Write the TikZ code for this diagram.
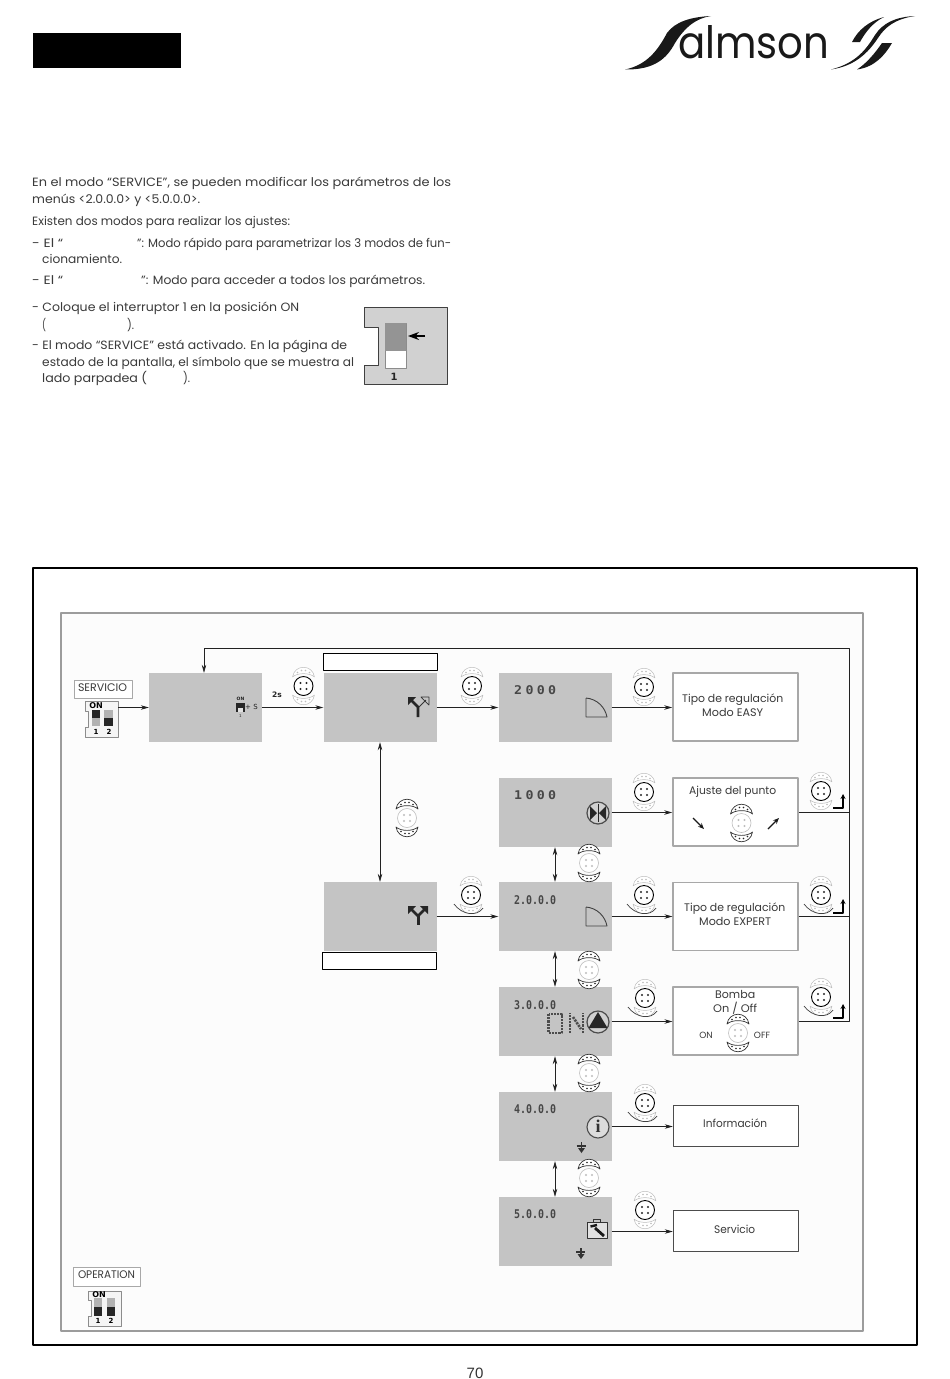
\documentclass[tikz,border=0pt]{standalone}
\usepackage{fontspec}
\usetikzlibrary{arrows.meta}
\setmainfont{Poppins}
\newfontfamily\lcdfont{DejaVu Sans Mono}
\newfontfamily\dvb{DejaVu Sans}
\newfontfamily\pagefont{Liberation Sans}
\newfontfamily\serifb{Liberation Serif}
\definecolor{lcdgray}{HTML}{C4C4C4}
\definecolor{txt}{HTML}{3A3A3A}
\definecolor{frameg}{HTML}{9C9C9C}
\definecolor{boxg}{HTML}{A8A8A8}
\definecolor{faint}{HTML}{BDBDBD}
\definecolor{dark}{HTML}{222222}
\tikzset{
 lcd/.style={fill=lcdgray,draw=none,inner sep=0,minimum width=113pt,minimum height=69pt},
 resA/.style={fill=white,draw=boxg,line width=1.6pt,inner sep=0,minimum width=125pt,minimum height=68pt},
 resB/.style={fill=white,draw=boxg,line width=1.1pt,inner sep=0,minimum width=125pt,minimum height=68pt},
 resC/.style={fill=white,draw=black!70,line width=.5pt,inner sep=0,minimum width=125pt,minimum height=41pt},
 blank/.style={fill=white,draw=black,line width=.8pt,inner sep=0,minimum width=114pt,minimum height=17pt},
 lab/.style={fill=white,draw=boxg,line width=1pt,inner sep=0},
 conn/.style={draw=dark,line width=.7pt},
 arr/.style={conn,-{Stealth[length=8pt,width=4.5pt]}},
 darr/.style={conn,{Stealth[length=8pt,width=4.5pt]}-{Stealth[length=8pt,width=4.5pt]}},
 lcdnum/.style={inner sep=0,anchor=base west,text=black!72,font=\lcdfont\bfseries\fontsize{12}{12}\selectfont},
 tinyt/.style={inner sep=0,text=dark},
}
\newcommand\tl[5]{\node[inner sep=0,anchor=base west,text=txt] (#1) at (#2,#3+4) {\fontsize{12}{13}\selectfont\resizebox{#4pt}{\height}{#5}};}
\newcommand\crescentpair[3]{%
 \foreach \sg in {1,-1}{
  \begin{scope}[yscale=\sg]
  \path[draw=#1,fill=white,line width=#3] (-11,-9) .. controls (-9,-22) and (9,-22) .. (11,-9) .. controls (6,-13.5) and (-6,-13.5) .. (-11,-9) -- cycle;
  \foreach \a/\b in {-6/-13.5,-2/-15.5,2/-15.5,6/-13.5}{\fill[#2] (\a,\b) circle (.8);}
  \end{scope}}}
\tikzset{
 btnsel/.pic={
  \crescentpair{faint}{faint}{.5pt}
  \path[draw=black,fill=white,line width=.9pt] (0,0) circle (9.5);
  \foreach \a in {-3,3}{\foreach \b in {-3,3}{\fill[black!85] (\a,\b) circle (1.1);}}
 },
 btnturn/.pic={
  \crescentpair{faint}{faint}{.5pt}
  \path[draw=black,fill=white,line width=.9pt] (0,0) circle (9.5);
  \foreach \a in {-3,3}{\foreach \b in {-3,3}{\fill[black!85] (\a,\b) circle (1.1);}}
  \draw[black!75,line width=.7pt] (-17,9) .. controls (-9,20) and (6,22) .. (12,13);
 },
 btnrot/.pic={
  \crescentpair{black!80}{black!85}{.7pt}
  \path[draw=faint,fill=white,line width=.6pt] (0,0) circle (9.5);
  \foreach \a in {-3,3}{\foreach \b in {-3,3}{\fill[faint] (\a,\b) circle (1.1);}}
 },
 backarrow/.pic={
  \draw[black,line width=1.2pt,-{Stealth[length=5pt,width=5pt]}] (-10,0) -- (0,0) -- (0,-14);
 },
 downmark/.pic={
  \draw[black!80,line width=1.2pt] (-5,0) -- (4,0);
  \draw[black!80,line width=1.4pt] (0,-4) -- (0,3);
  \fill[black!80] (-3.5,2) -- (3.5,2) -- (0,7) -- cycle;
 },
 quarter/.pic={
  \draw[black!75,line width=.9pt] (0,0) -- (0,19) -- (21,19) .. controls (19,9) and (11,1) .. (0,0);
 },
}
\begin{document}
\begin{tikzpicture}[x=1pt,y=-1pt,line join=round]
\useasboundingbox (0,0) rectangle (950,1379);
\fill[white] (0,0) rectangle (950,1379);

% header block
\fill[black] (33,33) rectangle (181,68);

% logo
\fill[black!90] (625,69.5) .. controls (647,65) and (658,50) .. (667,33) .. controls (675,22) and (690,17) .. (711,16)
  .. controls (692,19) and (682,32) .. (675,43) .. controls (667,58) and (655,70) .. (625,69.5) -- cycle;
\node[inner sep=0,anchor=base west,text=black!90] (logotext) at (678,58.5) {\resizebox{151pt}{33pt}{almson}};
\fill[black!90] (831,69.5) .. controls (855,66) and (868,53) .. (878,38) .. controls (885,27) and (895,19) .. (915,16)
  .. controls (895,17) and (883,23) .. (875,35) .. controls (867,48) and (857,63) .. (831,69.5) -- cycle;
\fill[black!90] (852,42) .. controls (858,30) and (869,21) .. (884,17) .. controls (872,23) and (865,33) .. (860,42) -- cycle;
\fill[black!90] (882,43) .. controls (875,53) and (867,63) .. (857,69.5) .. controls (875,67) and (885,55) .. (892,43) -- cycle;

% body text
\tl{t1}{32}{182}{419}{En el modo “SERVICE”, se pueden modificar los parámetros de los}
\tl{t2}{32}{199}{168}{menús <2.0.0.0> y <5.0.0.0>.}
\tl{t3}{32}{221}{258}{Existen dos modos para realizar los ajustes:}
\tl{t4a}{32}{243}{31}{- El “}
\tl{t4b}{137}{243}{314}{”: Modo rápido para parametrizar los 3 modos de fun-}
\tl{t5}{42}{259}{80}{cionamiento.}
\tl{t6a}{32}{280}{31}{- El “}
\tl{t6b}{141}{280}{284}{”: Modo para acceder a todos los parámetros.}
\tl{t7}{32}{307}{267}{- Coloque el interruptor 1 en la posición ON}
\tl{t8a}{42}{325}{4}{(}
\tl{t8b}{127}{325}{7}{).}
\tl{t9}{32}{345}{315}{- El modo “SERVICE” está activado. En la página de}
\tl{t10}{42}{362}{312}{estado de la pantalla, el símbolo que se muestra al}
\tl{t11a}{42}{378}{105}{lado parpadea (}
\tl{t11b}{183}{378}{7}{).}

% switch figure
\path[fill=black!18,draw=black!75,line width=.6pt] (364,307) -- (447,307) -- (447,384) -- (364,384) -- (364,365) -- (378,365) -- (378,327) -- (364,327) -- cycle;
\path[fill=white,draw=black!45,line width=.8pt] (385,323) rectangle (406,368);
\fill[black!42] (385,323) rectangle (406,351);
\draw[black,line width=1.2pt,-{Stealth[length=11pt,width=8pt]}] (425,336) -- (408,336);
\node[inner sep=0,font=\dvb\bfseries\fontsize{10}{10}\selectfont,text=black!85] (swnum) at (394,377) {1};

% frames
\draw[black,line width=1.4pt] (33,568) rectangle (917,1345);
\path[draw=frameg,line width=2pt,fill=black!1] (61,613) rectangle (863,1331);

% DIP service
\node[lab,minimum width=58pt,minimum height=18pt] (lserv) at (103,689) {};
\node[inner sep=0,text=txt] (lservt) at (102.5,688) {\fontsize{11}{11}\selectfont\resizebox{49pt}{\height}{SERVICIO}};
\path[fill=black!4,draw=black!45,line width=.6pt] (85,701) -- (118,701) -- (118,737) -- (85,737) -- (85,727) -- (88,727) -- (88,711) -- (85,711) -- cycle;
\node[inner sep=0,font=\dvb\bfseries\fontsize{8}{8}\selectfont] (don) at (96,705.5) {ON};
\fill[black!30] (92,710) rectangle (100,726); \fill[black!85] (92,710) rectangle (100,718);
\fill[black!30] (104,710) rectangle (113,726); \fill[black!85] (104,718) rectangle (113,726);
\node[inner sep=0,font=\dvb\bfseries\fontsize{7}{7}\selectfont] (dn1) at (96,732) {1};
\node[inner sep=0,font=\dvb\bfseries\fontsize{7}{7}\selectfont] (dn2) at (109,732) {2};
\coordinate (dipout) at (118,707.5);

% DIP operation
\node[lab,minimum width=67pt,minimum height=19pt] (lop) at (106.5,1277) {};
\node[inner sep=0,text=txt] (lopt) at (106.5,1275) {\fontsize{11}{11}\selectfont\resizebox{57pt}{\height}{OPERATION}};
\path[fill=black!4,draw=black!45,line width=.6pt] (88,1291) -- (121,1291) -- (121,1326) -- (88,1326) -- (88,1316) -- (91,1316) -- (91,1300) -- (88,1300) -- cycle;
\node[inner sep=0,font=\dvb\bfseries\fontsize{8}{8}\selectfont] (don2) at (99,1295) {ON};
\fill[black!30] (94,1298) rectangle (102,1316); \fill[black!85] (94,1307) rectangle (102,1316);
\fill[black!30] (107,1298) rectangle (115,1316); \fill[black!85] (107,1307) rectangle (115,1316);
\node[inner sep=0,font=\dvb\bfseries\fontsize{7}{7}\selectfont] (dn3) at (98,1320.5) {1};
\node[inner sep=0,font=\dvb\bfseries\fontsize{7}{7}\selectfont] (dn4) at (111,1320.5) {2};

% LCD nodes
\node[lcd] (A) at (205.5,707.5) {};
\node[lcd] (B) at (380,707.5) {};
\node[lcd] (C) at (555,707.5) {};
\node[lcd] (D) at (555,812.5) {};
\node[lcd] (E) at (380,916.5) {};
\node[lcd] (F) at (555,916.5) {};
\node[lcd] (G) at (555,1021.5) {};
\node[lcd] (H) at (555,1126.5) {};
\node[lcd] (I) at (555,1231.5) {};
\node[blank] (Bl) at (380,661.5) {};
\node[blank] (El) at (379.5,960.5) {};

% result nodes
\node[resA] (R1) at (735.5,707) {};
\node[resA] (R2) at (735.5,812) {};
\node[resB] (R3) at (735.5,916.5) {};
\node[resB] (R4) at (735.5,1021) {};
\node[resC] (R5) at (735.5,1125.5) {};
\node[resC] (R6) at (735.5,1230.5) {};

% result texts
\newcommand\rt[5]{\node[inner sep=0,anchor=base west,text=txt] (#1) at (#2,#3+4) {\fontsize{11}{12}\selectfont\resizebox{#4pt}{\height}{#5}};}
\rt{r1a}{682}{698}{101}{Tipo de regulación}
\rt{r1b}{702}{712}{61}{Modo EASY}
\rt{r2a}{689}{790}{87}{Ajuste del punto}
\rt{r3a}{684}{907}{101}{Tipo de regulación}
\rt{r3b}{699}{921}{72}{Modo EXPERT}
\rt{r4a}{715}{994}{40}{Bomba}
\rt{r4b}{713}{1008}{44}{On / Off}
\node[inner sep=0,text=txt] (r4on) at (706,1035) {\fontsize{9}{9}\selectfont ON};
\node[inner sep=0,text=txt] (r4off) at (762,1035) {\fontsize{9}{9}\selectfont OFF};
\rt{r5a}{703}{1123}{64}{Información}
\rt{r6a}{714}{1229}{41}{Servicio}

% LCD numbers
\newcommand\lcdw[1]{\resizebox{42pt}{\height}{#1}}
\node[lcdnum] (nC) at (514,694.5) {\lcdw{2\kern3pt0\kern3pt0\kern3pt0}};
\node[lcdnum] (nD) at (514,799.5) {\lcdw{1\kern3pt0\kern3pt0\kern3pt0}};
\node[lcdnum] (nF) at (514,904.5) {\lcdw{2.0.0.0}};
\node[lcdnum] (nG) at (514,1009.5) {\lcdw{3.0.0.0}};
\node[lcdnum] (nH) at (514,1113.5) {\lcdw{4.0.0.0}};
\node[lcdnum] (nI) at (514,1218.5) {\lcdw{5.0.0.0}};

% connectors
\draw[arr] (dipout) -- (A.west);
\draw[arr] (A.east) -- (B.west);
\draw[arr] (B.east) -- (C.west);
\draw[arr] (C.east) -- (R1.west |- C.east);
\draw[arr] (D.east) -- (R2.west |- D.east);
\draw[arr] (E.east) -- (F.west);
\draw[arr] (F.east) -- (R3.west);
\draw[arr] (G.east) -- (R4.west |- G.east);
\draw[arr] (H.east) -- (R5.west |- H.east);
\draw[arr] (I.east) -- (R6.west |- I.east);
\draw[darr] (B.south) -- (E.north);
\draw[darr] (D.south) -- (F.north);
\draw[darr] (F.south) -- (G.north);
\draw[darr] (G.south) -- (H.north);
\draw[darr] (H.south) -- (I.north);
\coordinate (busB) at (849,1021);
\coordinate (busT) at (849,648);
\coordinate (busL) at (204,648);
\draw[arr] (R4.east) -- (busB) -- (busT) -- (busL) -- (busL |- A.north);
\draw[conn] (R2.east) -- (R2.east -| busT);
\draw[conn] (R3.east) -- (R3.east -| busT);

% mini icon in A
\node[tinyt,font=\dvb\bfseries\fontsize{4.5}{4.5}\selectfont] (aon) at (240.5,699) {ON};
\fill[black!85] (236,703) rectangle (245,712);
\fill[lcdgray!50] (238,708) rectangle (243,712);
\node[tinyt,font=\dvb\fontsize{7}{7}\selectfont] (as) at (251.5,706.5) {+ S};
\node[tinyt,font=\dvb\fontsize{4}{4}\selectfont] (a1) at (240.5,716) {1};
\node[inner sep=0,font=\dvb\bfseries\fontsize{7.5}{7.5}\selectfont,text=black!85] (t2s) at (277,695) {2s};

% Y icons
\fill[black!85] (408,697) -- (416,697) -- (408,705) -- cycle;
\draw[black!85,line width=2.6pt] (411,700) -- (418,707) -- (418,717);
\draw[black!80,line width=.7pt] (421,697) -- (429,697) -- (429,705) -- cycle;
\draw[black!80,line width=.9pt] (426,700) -- (419,707);
\fill[black!85] (408,906) -- (416,906) -- (408,914) -- cycle;
\fill[black!85] (428,906) -- (420,906) -- (428,914) -- cycle;
\draw[black!85,line width=2.6pt] (411,909) -- (418,916) -- (425,909);
\draw[black!85,line width=3pt] (418,916) -- (418,925);

% LCD icons
\pic at (586,698) {quarter};
\pic at (586,907) {quarter};
% valve
\draw[black!70,line width=1.2pt,fill=lcdgray!80] (598,813) circle (11);
\fill[black!85] (590,806) -- (597,813) -- (590,820) -- cycle;
\fill[black!85] (606,806) -- (599,813) -- (606,820) -- cycle;
\draw[black!85,line width=.8pt] (598,804) -- (598,822);
% ON + pump
\begin{scope}[draw=black!70,line width=2.6pt,dash pattern=on 2.2pt off 1pt]
\draw (548.5,1014) rectangle (562,1033);
\draw (570,1033) -- (570,1013);
\draw (573,1017) -- (581,1029);
\draw (583,1033) -- (583,1013);
\end{scope}
\draw[black!70,line width=1.2pt,fill=lcdgray!80] (598,1022) circle (11);
\fill[black!85] (598,1012) -- (607.5,1028) -- (588.5,1028) -- cycle;
% info
\draw[black!70,line width=1.1pt,fill=lcdgray!60] (598,1127) circle (11);
\node[inner sep=0,font=\serifb\bfseries\fontsize{18}{18}\selectfont,text=black!80] (infoi) at (598,1126) {i};
% tool case
\draw[black!80,line width=1pt,fill=lcdgray!50] (587.5,1222) rectangle (607,1238);
\draw[black!80,line width=1pt] (593.5,1222) -- (593.5,1219.5) -- (600.5,1219.5) -- (600.5,1222);
\draw[black!90,line width=2.8pt] (595,1228) -- (604,1236);
\draw[black!90,line width=2.4pt] (590.5,1226.5) -- (597,1225);
\pic at (581.5,1146) {downmark};
\pic at (581,1252) {downmark};

% selection buttons
\pic (b1) at (303.5,686) {btnsel};
\pic (b2) at (472,686) {btnsel};
\pic (b3) at (644,687) {btnsel};
\pic (b4) at (644,792) {btnsel};
\pic (b5) at (821,791) {btnsel};
\pic (b6) at (471,895) {btnturn};
\pic (b7) at (644,895) {btnturn};
\pic (b8) at (821,895) {btnturn};
\pic (b9) at (645,998) {btnturn};
\pic (b10) at (821,997) {btnturn};
\pic (b11) at (645,1103) {btnturn};
\pic (b12) at (645,1210) {btnsel};

% rotary buttons
\pic (o1) at (407,818) {btnrot};
\pic (o2) at (589,863) {btnrot};
\pic (o3) at (589,970) {btnrot};
\pic (o4) at (589,1073) {btnrot};
\pic (o5) at (589,1178) {btnrot};
\pic (o6) at (741.5,823) {btnrot};
\pic (o7) at (738,1033) {btnrot};

% return marks
\pic at (843,808) {backarrow};
\pic at (843,913) {backarrow};
\pic at (843,1018) {backarrow};

% set point arrows
\draw[black!90,line width=1.1pt,-{Stealth[length=6pt,width=5pt]}] (693,818) -- (704,829);
\draw[black!90,line width=1.1pt,-{Stealth[length=6pt,width=5pt]}] (768,829) -- (779,818);

% page number
\node[inner sep=0,font=\pagefont\fontsize{15}{15}\selectfont,text=black!80] (pg) at (475,1373) {70};
\end{tikzpicture}
\end{document}
